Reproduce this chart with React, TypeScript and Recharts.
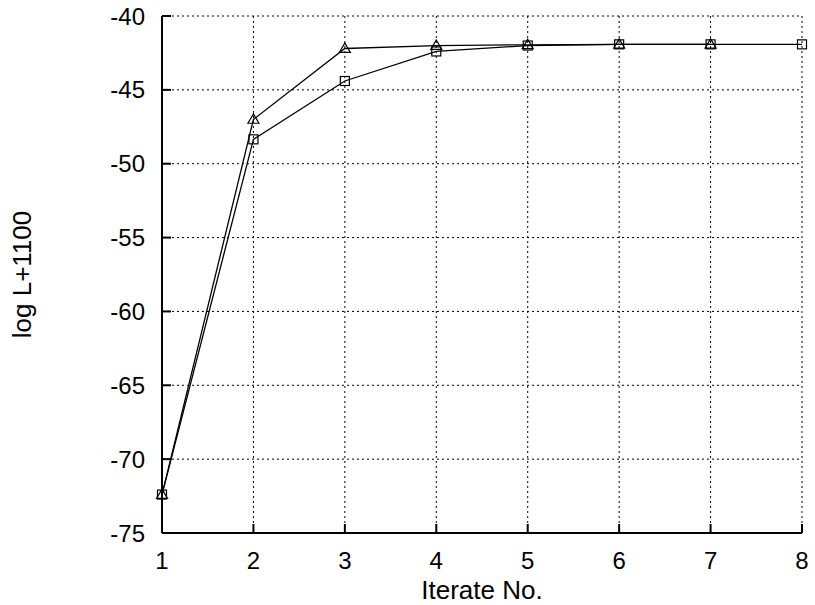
import React from "react";
import {
    LineChart,
    Line,
    XAxis,
    YAxis,
    CartesianGrid,
} from "recharts";

const iterations = [1, 2, 3, 4, 5, 6, 7, 8];
const triangleSeries = [-72.4, -47.0, -42.2, -42.0, -41.95, -41.92, -41.92, null];
const squareSeries = [-72.4, -48.35, -44.4, -42.4, -42.0, -41.92, -41.92, -41.92];
const xTicks = [1, 2, 3, 4, 5, 6, 7, 8];
const yTicks = [-75, -70, -65, -60, -55, -50, -45, -40];

const FONT = "'Liberation Sans', Arial, Helvetica, sans-serif";

const TriangleDot = (props: any) => {
    const { cx, cy, value } = props;
    if (value == null || cx == null || cy == null) return null;
    const s = 5.5;
    return (
        <path
            key={`t-${cx}`}
            d={`M${cx},${cy - s} L${cx + s},${cy + s * 0.7} L${cx - s},${cy + s * 0.7} Z`}
            fill="none"
            stroke="#000"
            strokeWidth={1.2}
        />
    );
};

const SquareDot = (props: any) => {
    const { cx, cy, value } = props;
    if (value == null || cx == null || cy == null) return null;
    const s = 4.5;
    return (
        <rect
            key={`s-${cx}`}
            x={cx - s}
            y={cy - s}
            width={s * 2}
            height={s * 2}
            fill="none"
            stroke="#000"
            strokeWidth={1.2}
        />
    );
};

const App = () => {
    // build rows for the chart from the arrays above
    const data = iterations.map((it, i) => ({
        iter: it,
        tri: triangleSeries[i],
        sq: squareSeries[i],
    }));

    const tickStyle = { fill: "#000", fontSize: 24, fontFamily: FONT };

    return (
        <div style={{ position: "absolute", left: 0, top: 0, background: "#fff" }}>
            <LineChart
                width={815}
                height={605}
                data={data}
                margin={{ top: 16, right: 13, bottom: 0, left: 0 }}
                style={{ fontFamily: FONT }}
            >
                <CartesianGrid
                    stroke="#000"
                    strokeWidth={1}
                    strokeDasharray="2 3"
                />
                <XAxis
                    dataKey="iter"
                    type="number"
                    domain={[1, 8]}
                    ticks={xTicks}
                    height={72}
                    tickSize={-9}
                    tickMargin={28}
                    tick={tickStyle}
                    axisLine={{ stroke: "#000", strokeWidth: 2 }}
                    tickLine={{ stroke: "#000", strokeWidth: 2 }}
                    label={{
                        value: "Iterate No.",
                        position: "insideBottom",
                        offset: 6,
                        fill: "#000",
                        fontSize: 26,
                        fontFamily: FONT,
                    }}
                />
                <XAxis
                    xAxisId="top"
                    orientation="top"
                    dataKey="iter"
                    type="number"
                    domain={[1, 8]}
                    ticks={xTicks}
                    height={0}
                    tickSize={-9}
                    tick={false}
                    axisLine={{ stroke: "#000", strokeWidth: 2 }}
                    tickLine={{ stroke: "#000", strokeWidth: 2 }}
                />
                <YAxis
                    type="number"
                    domain={[-75, -40]}
                    ticks={yTicks}
                    width={162}
                    tickSize={-9}
                    tickMargin={26}
                    tick={tickStyle}
                    axisLine={{ stroke: "#000", strokeWidth: 2 }}
                    tickLine={{ stroke: "#000", strokeWidth: 2 }}
                    label={{
                        content: (props: any) => {
                            const vb = props.viewBox || {};
                            const x = (vb.x || 0) + 22;
                            const y = (vb.y || 0) + (vb.height || 0) / 2;
                            return (
                                <text
                                    x={x}
                                    y={y}
                                    transform={`rotate(-90 ${x} ${y})`}
                                    textAnchor="middle"
                                    dominantBaseline="central"
                                    fill="#000"
                                    fontSize={26}
                                    fontFamily={FONT}
                                >
                                    log L+1100
                                </text>
                            );
                        },
                    }}
                />
                <YAxis
                    yAxisId="right"
                    orientation="right"
                    type="number"
                    domain={[-75, -40]}
                    ticks={yTicks}
                    width={0}
                    tickSize={-9}
                    tick={false}
                    axisLine={{ stroke: "#000", strokeWidth: 2 }}
                    tickLine={{ stroke: "#000", strokeWidth: 2 }}
                />
                <Line
                    type="linear"
                    dataKey="tri"
                    stroke="#000"
                    strokeWidth={1.3}
                    dot={<TriangleDot />}
                    activeDot={false}
                    connectNulls={false}
                    isAnimationActive={false}
                />
                <Line
                    type="linear"
                    dataKey="sq"
                    stroke="#000"
                    strokeWidth={1.3}
                    dot={<SquareDot />}
                    activeDot={false}
                    isAnimationActive={false}
                />
            </LineChart>
        </div>
    );
};

export default App;
